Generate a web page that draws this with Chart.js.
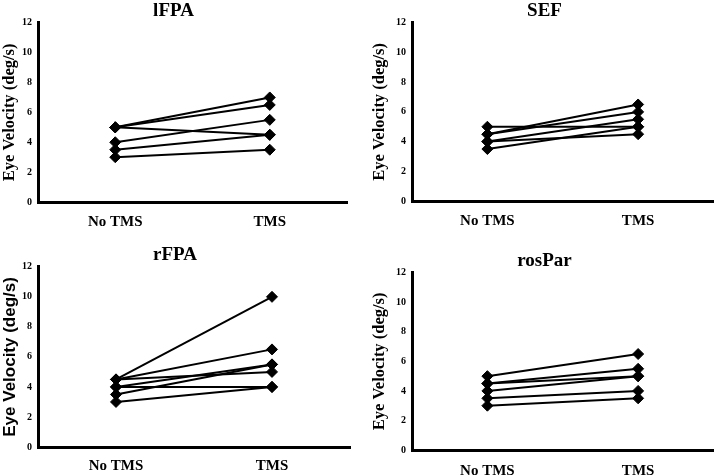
<!DOCTYPE html>
<html>
<head>
<meta charset="utf-8">
<script src="https://cdn.jsdelivr.net/npm/chart.js@4"></script>
<style>
  body { margin: 0; background: #fff; }
  #wrap { position: relative; width: 720px; height: 475px; overflow: hidden; }
  canvas { position: absolute; }
</style>
</head>
<body>
<div id="wrap">
  <canvas id="c1" width="360" height="235" style="left:0;top:0"></canvas>
  <canvas id="c2" width="360" height="235" style="left:360px;top:0"></canvas>
  <canvas id="c3" width="360" height="240" style="left:0;top:235px"></canvas>
  <canvas id="c4" width="360" height="240" style="left:360px;top:235px"></canvas>
</div>
<script>
// conditions on the x axis and y tick values
const conditions = ['No TMS', 'TMS'];
const yTicks = [0, 2, 4, 6, 8, 10, 12];

// one entry per subject: value without TMS, value with TMS
const lfpaNoTms = [5, 5, 5, 4, 3.5, 3];
const lfpaTms = [7, 6.5, 4.5, 5.5, 4.5, 3.5];

const sefNoTms = [5, 4.5, 4.5, 4, 4, 3.5];
const sefTms = [5, 6.5, 6, 5.5, 4.5, 5];

const rfpaNoTms = [4.5, 4.5, 4.5, 4, 4, 3.5, 3];
const rfpaTms = [10, 6.5, 5, 5.5, 4, 5.5, 4];

const rosparNoTms = [5, 4.5, 4.5, 4, 3.5, 3];
const rosparTms = [6.5, 5.5, 5, 5, 4, 3.5];

const serif = 'Liberation Serif, Times New Roman, serif';
const sans = 'Liberation Sans, Arial, sans-serif';

function makePanel(id, title, noTms, tms, lay) {
  const datasets = noTms.map((v, i) => ({
    data: [v, tms[i]],
    borderColor: '#000',
    backgroundColor: '#000',
    borderWidth: 2,
    pointStyle: 'rectRot',
    pointRadius: 5.5,
    pointBorderWidth: 1,
    tension: 0,
  }));

  return new Chart(document.getElementById(id), {
    type: 'line',
    data: { labels: conditions, datasets },
    options: {
      responsive: false,
      animation: false,
      layout: { padding: { left: lay.padLeft, right: lay.padRight } },
      plugins: {
        legend: { display: false },
        tooltip: { enabled: false },
        title: {
          display: true,
          text: title,
          color: '#000',
          font: { family: serif, size: 19, weight: 'bold' },
          padding: { top: lay.titleTop, bottom: lay.titleBottom },
        },
      },
      scales: {
        x: {
          offset: true,
          grid: { display: false, drawTicks: false },
          border: { display: true, color: '#000', width: 3 },
          ticks: {
            color: '#000',
            padding: lay.xPad,
            font: { family: serif, size: 15, weight: 'bold' },
          },
          afterFit: (s) => { s.height = lay.xHeight; },
        },
        y: {
          min: 0,
          max: 12,
          afterBuildTicks: (s) => { s.ticks = yTicks.map((v) => ({ value: v })); },
          grid: { display: false, drawTicks: false },
          border: { display: true, color: '#000', width: 3 },
          ticks: {
            color: '#000',
            padding: 6,
            font: { family: serif, size: 10, weight: 'bold' },
          },
          title: {
            display: true,
            text: 'Eye Velocity (deg/s)',
            color: '#000',
            padding: 0,
            font: { family: lay.yFont, size: lay.ySize, weight: 'bold' },
          },
          afterFit: (s) => { s.width = lay.yWidth; },
        },
      },
    },
  });
}

makePanel('c1', 'lFPA', lfpaNoTms, lfpaTms,
  { padLeft: 0, padRight: 13, titleTop: 0, titleBottom: 0, xHeight: 33, xPad: 11, yWidth: 38, yFont: serif, ySize: 16.5 });
makePanel('c2', 'SEF', sefNoTms, sefTms,
  { padLeft: 10, padRight: 1, titleTop: 0, titleBottom: 0, xHeight: 34, xPad: 11, yWidth: 42, yFont: serif, ySize: 16.5 });
makePanel('c3', 'rFPA', rfpaNoTms, rfpaTms,
  { padLeft: 0, padRight: 10, titleTop: 9, titleBottom: 0, xHeight: 28, xPad: 10, yWidth: 38, yFont: sans, ySize: 17 });
makePanel('c4', 'rosPar', rosparNoTms, rosparTms,
  { padLeft: 10, padRight: 1, titleTop: 15, titleBottom: 0, xHeight: 25, xPad: 12, yWidth: 42, yFont: serif, ySize: 16.5 });
</script>
</body>
</html>
